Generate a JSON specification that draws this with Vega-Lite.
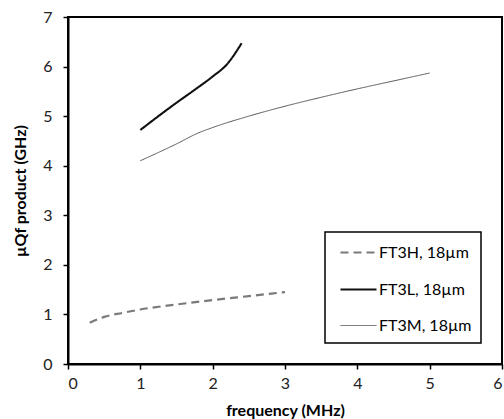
{
  "$schema": "https://vega.github.io/schema/vega-lite/v6.json",
  "width": 434,
  "height": 347,
  "autosize": {"type": "none"},
  "padding": {"left": 68, "top": 17, "right": 2, "bottom": 55},
  "background": "white",
  "data": {
    "values": [
      {"series": "FT3H, 18µm", "f": 0.3, "q": 0.83},
      {"series": "FT3H, 18µm", "f": 0.5, "q": 0.95},
      {"series": "FT3H, 18µm", "f": 0.75, "q": 1.03},
      {"series": "FT3H, 18µm", "f": 1.0, "q": 1.1},
      {"series": "FT3H, 18µm", "f": 1.5, "q": 1.2},
      {"series": "FT3H, 18µm", "f": 2.0, "q": 1.29},
      {"series": "FT3H, 18µm", "f": 2.5, "q": 1.37},
      {"series": "FT3H, 18µm", "f": 3.0, "q": 1.45},
      {"series": "FT3L, 18µm", "f": 1.0, "q": 4.72},
      {"series": "FT3L, 18µm", "f": 1.25, "q": 5.0},
      {"series": "FT3L, 18µm", "f": 1.5, "q": 5.27},
      {"series": "FT3L, 18µm", "f": 1.75, "q": 5.53},
      {"series": "FT3L, 18µm", "f": 2.0, "q": 5.8},
      {"series": "FT3L, 18µm", "f": 2.2, "q": 6.05},
      {"series": "FT3L, 18µm", "f": 2.4, "q": 6.47},
      {"series": "FT3M, 18µm", "f": 1.0, "q": 4.1},
      {"series": "FT3M, 18µm", "f": 1.5, "q": 4.44},
      {"series": "FT3M, 18µm", "f": 1.8, "q": 4.66},
      {"series": "FT3M, 18µm", "f": 2.0, "q": 4.77},
      {"series": "FT3M, 18µm", "f": 2.5, "q": 5.0},
      {"series": "FT3M, 18µm", "f": 3.0, "q": 5.2},
      {"series": "FT3M, 18µm", "f": 3.5, "q": 5.38},
      {"series": "FT3M, 18µm", "f": 4.0, "q": 5.55},
      {"series": "FT3M, 18µm", "f": 4.5, "q": 5.71},
      {"series": "FT3M, 18µm", "f": 5.0, "q": 5.87}
    ]
  },
  "mark": {"type": "line", "interpolate": "monotone"},
  "encoding": {
    "x": {
      "field": "f", "type": "quantitative",
      "scale": {"domain": [0, 6], "nice": false},
      "axis": {"values": [0, 1, 2, 3, 4, 5, 6], "title": "frequency (MHz)", "format": "d"}
    },
    "y": {
      "field": "q", "type": "quantitative",
      "scale": {"domain": [0, 7], "nice": false},
      "axis": {"values": [0, 1, 2, 3, 4, 5, 6, 7], "title": "µQf product (GHz)", "format": "d"}
    },
    "color": {
      "field": "series", "type": "nominal",
      "scale": {"domain": ["FT3H, 18µm", "FT3L, 18µm", "FT3M, 18µm"], "range": ["#7a7a7a", "#111111", "#555555"]},
      "legend": {"title": null}
    },
    "strokeDash": {
      "field": "series", "type": "nominal",
      "scale": {"domain": ["FT3H, 18µm", "FT3L, 18µm", "FT3M, 18µm"], "range": [[8, 5], [1, 0], [1, 0]]},
      "legend": {"title": null}
    },
    "strokeWidth": {
      "field": "series", "type": "nominal",
      "scale": {"type": "ordinal", "domain": ["FT3H, 18µm", "FT3L, 18µm", "FT3M, 18µm"], "range": [2.2, 2.1, 1]},
      "legend": {"title": null}
    }
  },
  "config": {
    "font": "Lato",
    "view": {"stroke": "black", "strokeWidth": 2},
    "axis": {
      "grid": false,
      "domainColor": "black",
      "domainWidth": 2,
      "tickColor": "black",
      "tickSize": 5,
      "tickWidth": 1.5,
      "labelFont": "Lato",
      "labelFontSize": 16,
      "labelColor": "#222222",
      "titleFont": "Lato",
      "titleFontSize": 16,
      "titleFontWeight": "bold",
      "titleColor": "black"
    },
    "axisX": {"labelPadding": 6, "titlePadding": 11},
    "axisY": {"labelPadding": 11, "titlePadding": 14},
    "legend": {
      "orient": "none",
      "legendX": 257,
      "legendY": 215,
      "padding": 9,
      "strokeColor": "black",
      "strokeWidth": 1.5,
      "fillColor": "white",
      "symbolType": "M-1.8,0H1.8",
      "symbolSize": 400,
      "symbolOffset": 13,
      "labelFont": "Lato",
      "labelFontSize": 16,
      "labelColor": "black",
      "labelOffset": 9,
      "rowPadding": 17
    }
  }
}
